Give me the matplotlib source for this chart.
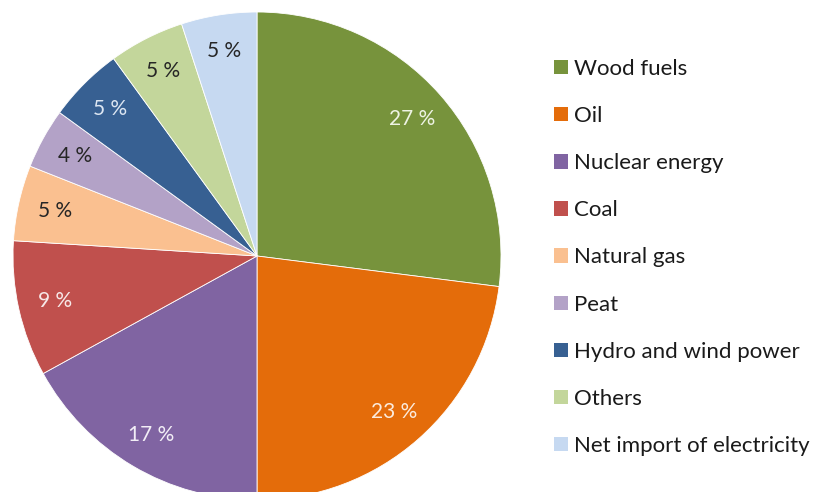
import matplotlib
matplotlib.use("Agg")
import matplotlib.pyplot as plt
from matplotlib.patches import Patch

plt.rcParams['font.family'] = ['Lato', 'DejaVu Sans']

# energy sources, clockwise from 12 o'clock
labels = ["Wood fuels", "Oil", "Nuclear energy", "Coal", "Natural gas",
          "Peat", "Hydro and wind power", "Others", "Net import of electricity"]
shares = [27, 23, 17, 9, 5, 4, 5, 5, 5]
colors = ["#77933C", "#E46C0A", "#8064A2", "#C0504D", "#FAC090",
          "#B3A2C7", "#376092", "#C3D69B", "#C6D9F1"]
text_colors = ["#EEF3E4", "#FCEBDD", "#F2EEF6", "#F7E8E8", "#262626",
               "#262626", "#DCE6F2", "#262626", "#262626"]

fig = plt.figure(figsize=(8.13, 4.92), dpi=100)

# pie centre ~ (257, 256) px, radius ~244 px
cx, cy, r = 257, 256, 244
W, H = 813, 492
ax = fig.add_axes([(cx - r) / W, (H - cy - r) / H, 2 * r / W, 2 * r / H])

wedges, texts = ax.pie(shares, colors=colors, startangle=90, counterclock=False,
                       radius=1, wedgeprops=dict(linewidth=0.6, edgecolor="white"),
                       labels=[f"{v} %" for v in shares], labeldistance=0.85)
for t, c in zip(texts, text_colors):
    t.set_color(c)
    t.set_fontsize(15)
    t.set_ha("center")
    t.set_va("center")
ax.set_xlim(-1, 1)
ax.set_ylim(-1, 1)
ax.set_aspect("equal")
ax.axis("off")

handles = [Patch(facecolor=c, edgecolor="none") for c in colors]
leg = fig.legend(handles, labels, loc="upper left", bbox_to_anchor=(554 / W, 1 - 59 / H),
                 frameon=False, fontsize=16, handlelength=0.62, handleheight=0.62,
                 handletextpad=0.26, labelspacing=1.22, borderpad=0, borderaxespad=0)
for t in leg.get_texts():
    t.set_color("#1a1a1a")

fig.savefig("out.png", dpi=100)
